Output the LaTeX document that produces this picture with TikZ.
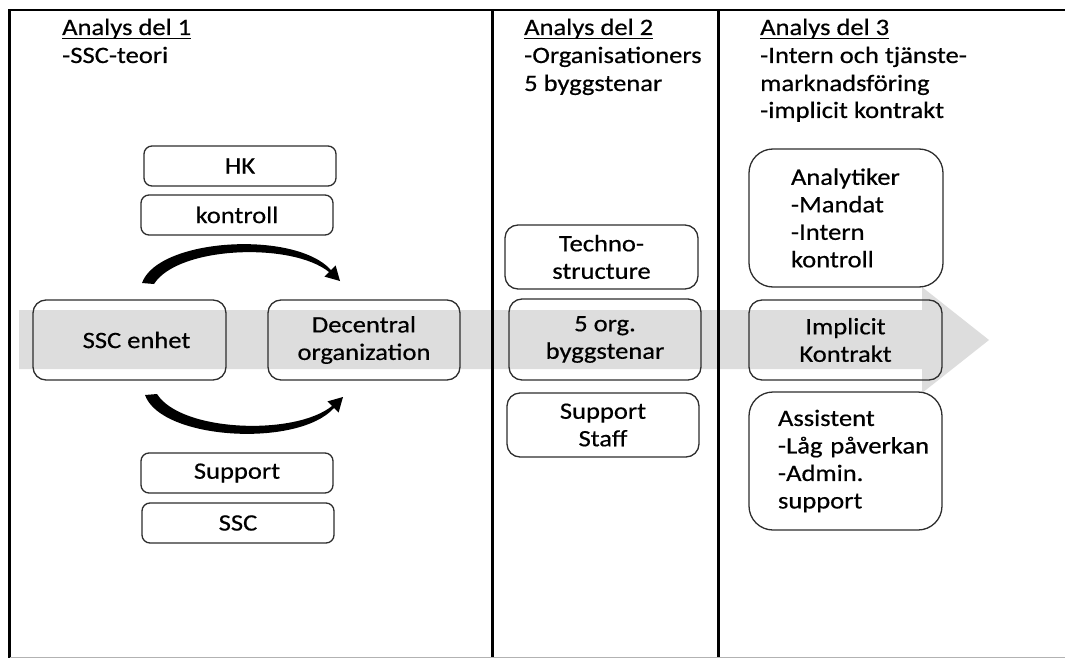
\documentclass[tikz,border=0pt]{standalone}
\usepackage{fontspec}
\setmainfont{Carlito}[FakeStretch=1.13,FakeBold=0.5]
\definecolor{bandgray}{RGB}{221,221,221}
\definecolor{boxline}{RGB}{45,45,45}
\begin{document}
\begin{tikzpicture}[x=1pt,y=-1pt,
  every node/.style={font=\fontsize{23.5}{27.5}\selectfont},
  txt/.style={inner sep=0pt, anchor=base west},
  rbox/.style={draw=boxline, line width=1.3pt, rounded corners=8pt, inner sep=0pt, align=center, minimum width=192pt, minimum height=40pt},
  mbox/.style={rbox, rounded corners=13pt},
  bbox/.style={draw=boxline, line width=1.3pt, rounded corners=24pt, inner ysep=0pt, align=left, minimum height=138pt},
  frame/.style={line width=2.5pt, black}]
\useasboundingbox (0,0) rectangle (1065,658);

% gray flow arrow
\fill[bandgray] (19,310) -- (922,310) -- (922,287) -- (989,340) -- (922,393) -- (922,369) -- (19,369) -- cycle;

% frame and dividers
\draw[frame] (1065,10) -- (9.5,10) -- (9.5,658);
\draw[frame] (492.5,10) -- (492.5,658);
\draw[frame] (718.5,10) -- (718.5,658);
\draw[gray!60, line width=1pt] (9.5,657) -- (1065,657);

% headings
\node[txt] (h1) at (62,35) {Analys del 1};
\node[txt] (h1a) at (62,63) {-SSC-teori};
\node[txt] (h2) at (524,35) {Analys del 2};
\node[txt] (h2a) at (524,63) {-Organisationers};
\node[txt] (h2b) at (524,91) {5 byggstenar};
\node[txt] (h3) at (760,35) {Analys del 3};
\node[txt] (h3a) at (760,63) {-Intern och tjänste-};
\node[txt] (h3b) at (760,91) {marknadsföring};
\node[txt] (h3c) at (760,118) {-implicit kontrakt};
\foreach \h in {h1,h2,h3}
  \draw[line width=1.1pt] ([yshift=-3.5pt]\h.base west) -- ([yshift=-3.5pt]\h.base east);

% column 1
\node[rbox] (hk) at (240,166) {HK};
\node[rbox] (kontroll) at (237,215) {kontroll};
\node[mbox, minimum width=193pt, minimum height=80pt] (ssce) at (129.5,340) {\hspace*{14pt}SSC enhet};
\node[mbox, minimum height=80pt] (dec) at (364,340) {Decentral\\organization};
\node[rbox] (support) at (237,473) {Support};
\node[rbox] (ssc) at (238,523) {SSC};

% curved arrows
\fill[black] (142,283) .. controls (158,238) and (295,230) .. (331,270)
  -- (335.6,265.4) -- (340,281) -- (324.4,276.6) -- (329,272)
  .. controls (292,242) and (178,246) .. (154,284) -- cycle;
\fill[black] (145,395) .. controls (161,440) and (298,448) .. (334,408)
  -- (338.6,412.6) -- (343,397) -- (327.4,401.4) -- (332,406)
  .. controls (295,436) and (181,432) .. (157,394) -- cycle;

% column 2
\node[mbox, minimum width=193pt, minimum height=64pt] (techno) at (601.5,257) {Techno-\\structure};
\node[mbox, minimum height=81pt] (org) at (605,339.5) {5 org.\\byggstenar};
\node[mbox, minimum height=64pt] (staff) at (603,425) {Support\\Staff};

% column 3
\node[bbox, inner xsep=42pt, text width=110pt] (analyt) at (846,218) {Analytiker\\-Mandat\\-Intern\\kontroll};
\node[mbox, minimum width=193pt, minimum height=80pt] (impl) at (845.5,340) {Implicit\\Kontrakt};
\node[bbox, inner xsep=29pt, text width=135pt] (assist) at (845.5,461) {Assistent\\\mbox{-Låg påverkan}\\-Admin.\\support};
\end{tikzpicture}
\end{document}
